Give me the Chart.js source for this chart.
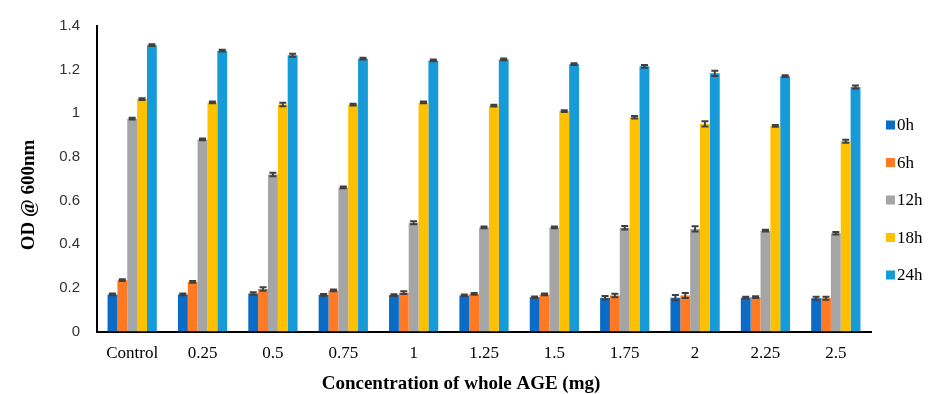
<!DOCTYPE html>
<html>
<head>
<meta charset="utf-8">
<script src="https://cdn.jsdelivr.net/npm/chart.js@4.4.1/dist/chart.umd.min.js"></script>
<style>
  html, body { margin: 0; padding: 0; background: #fff; }
  #wrap { width: 932px; height: 394px; position: relative; }
</style>
</head>
<body>
<div id="wrap"><canvas id="odChart"></canvas></div>
<script>
// Dữ liệu
const categories = ['Control', '0.25', '0.5', '0.75', '1', '1.25', '1.5', '1.75', '2', '2.25', '2.5'];
const seriesNames = ['0h', '6h', '12h', '18h', '24h'];
const seriesColors = ['#0B6CC8', '#FF7A22', '#A5A5A5', '#FFC000', '#169BD8'];

const od0h  = [0.170, 0.170, 0.174, 0.168, 0.167, 0.165, 0.157, 0.155, 0.155, 0.155, 0.152];
const od6h  = [0.235, 0.227, 0.195, 0.188, 0.178, 0.172, 0.170, 0.165, 0.165, 0.158, 0.152];
const od12h = [0.975, 0.880, 0.720, 0.660, 0.498, 0.477, 0.477, 0.475, 0.470, 0.462, 0.450];
const od18h = [1.065, 1.050, 1.040, 1.040, 1.050, 1.035, 1.010, 0.982, 0.952, 0.942, 0.872];
const od24h = [1.312, 1.287, 1.266, 1.250, 1.242, 1.247, 1.225, 1.215, 1.183, 1.170, 1.120];

const err0h  = [0.004, 0.004, 0.006, 0.004, 0.004, 0.004, 0.003, 0.008, 0.012, 0.004, 0.007];
const err6h  = [0.004, 0.004, 0.008, 0.004, 0.006, 0.004, 0.004, 0.008, 0.012, 0.004, 0.007];
const err12h = [0.004, 0.004, 0.008, 0.004, 0.007, 0.004, 0.004, 0.008, 0.012, 0.004, 0.006];
const err18h = [0.004, 0.004, 0.008, 0.004, 0.004, 0.004, 0.004, 0.006, 0.012, 0.004, 0.007];
const err24h = [0.004, 0.004, 0.007, 0.004, 0.004, 0.004, 0.004, 0.006, 0.012, 0.004, 0.007];

const yTicks = [0, 0.2, 0.4, 0.6, 0.8, 1, 1.2, 1.4];
const yTickLabels = ['0', '0.2', '0.4', '0.6', '0.8', '1', '1.2', '1.4'];

const allValues = [od0h, od6h, od12h, od18h, od24h];
const allErrors = [err0h, err6h, err12h, err18h, err24h];

// Vẽ thanh sai số
const errorBarPlugin = {
  id: 'errorBars',
  afterDatasetsDraw(chart) {
    const ctx = chart.ctx;
    const yScale = chart.scales.y;
    ctx.save();
    ctx.strokeStyle = '#404040';
    ctx.lineWidth = 2;
    chart.data.datasets.forEach((ds, di) => {
      const meta = chart.getDatasetMeta(di);
      meta.data.forEach((bar, i) => {
        const v = ds.data[i];
        const e = ds.errors[i];
        const yTop = yScale.getPixelForValue(v + e);
        const yBot = yScale.getPixelForValue(v - e);
        const half = 3.5;
        ctx.beginPath();
        ctx.moveTo(bar.x, yTop); ctx.lineTo(bar.x, yBot);
        ctx.moveTo(bar.x - half, yTop); ctx.lineTo(bar.x + half, yTop);
        ctx.moveTo(bar.x - half, yBot); ctx.lineTo(bar.x + half, yBot);
        ctx.stroke();
      });
    });
    ctx.restore();
  }
};

// Chú thích và tiêu đề trục
const textPlugin = {
  id: 'texts',
  afterDraw(chart) {
    const ctx = chart.ctx;
    ctx.save();
    ctx.fillStyle = '#000';
    ctx.textBaseline = 'middle';
    ctx.font = '17px "Liberation Serif", serif';
    chart.data.datasets.forEach((ds, i) => {
      const y = 125 + i * 37.5;
      ctx.fillStyle = ds.backgroundColor;
      ctx.fillRect(886, y - 4.5, 9, 9);
      ctx.fillStyle = '#000';
      ctx.textAlign = 'left';
      ctx.fillText(ds.label, 897, y + 1);
    });

    ctx.font = 'bold 19px "Liberation Serif", serif';
    ctx.textAlign = 'center';
    ctx.fillText('Concentration of whole AGE (mg)', 461, 384);

    ctx.translate(29, 195);
    ctx.rotate(-Math.PI / 2);
    ctx.fillText('OD @ 600nm', 0, 0);
    ctx.restore();
  }
};

const ctx = document.getElementById('odChart').getContext('2d');
new Chart(ctx, {
  type: 'bar',
  data: {
    labels: categories,
    datasets: seriesNames.map((name, i) => ({
      label: name,
      data: allValues[i],
      errors: allErrors[i],
      backgroundColor: seriesColors[i],
      borderWidth: 0,
      categoryPercentage: 0.7,
      barPercentage: 1.0
    }))
  },
  options: {
    responsive: true,
    maintainAspectRatio: false,
    animation: false,
    layout: { padding: { top: 23, right: 61, left: 0, bottom: 0 } },
    plugins: {
      legend: { display: false },
      tooltip: { enabled: false }
    },
    scales: {
      x: {
        grid: { display: false, drawTicks: false },
        border: { color: '#000', width: 2 },
        ticks: { color: '#000', font: { family: '"Liberation Serif", serif', size: 17 }, padding: 12 },
        afterFit: (s) => { s.height = 62.5; }
      },
      y: {
        min: 0,
        max: 1.4,
        grid: { display: false, drawTicks: false },
        border: { color: '#000', width: 2 },
        afterBuildTicks: (s) => { s.ticks = yTicks.map(v => ({ value: v })); },
        ticks: {
          color: '#333',
          font: { family: '"Liberation Sans", sans-serif', size: 15 },
          padding: 17,
          callback: (v, i) => yTickLabels[i]
        },
        afterFit: (s) => { s.width = 97; }
      }
    }
  },
  plugins: [errorBarPlugin, textPlugin]
});
</script>
</body>
</html>
